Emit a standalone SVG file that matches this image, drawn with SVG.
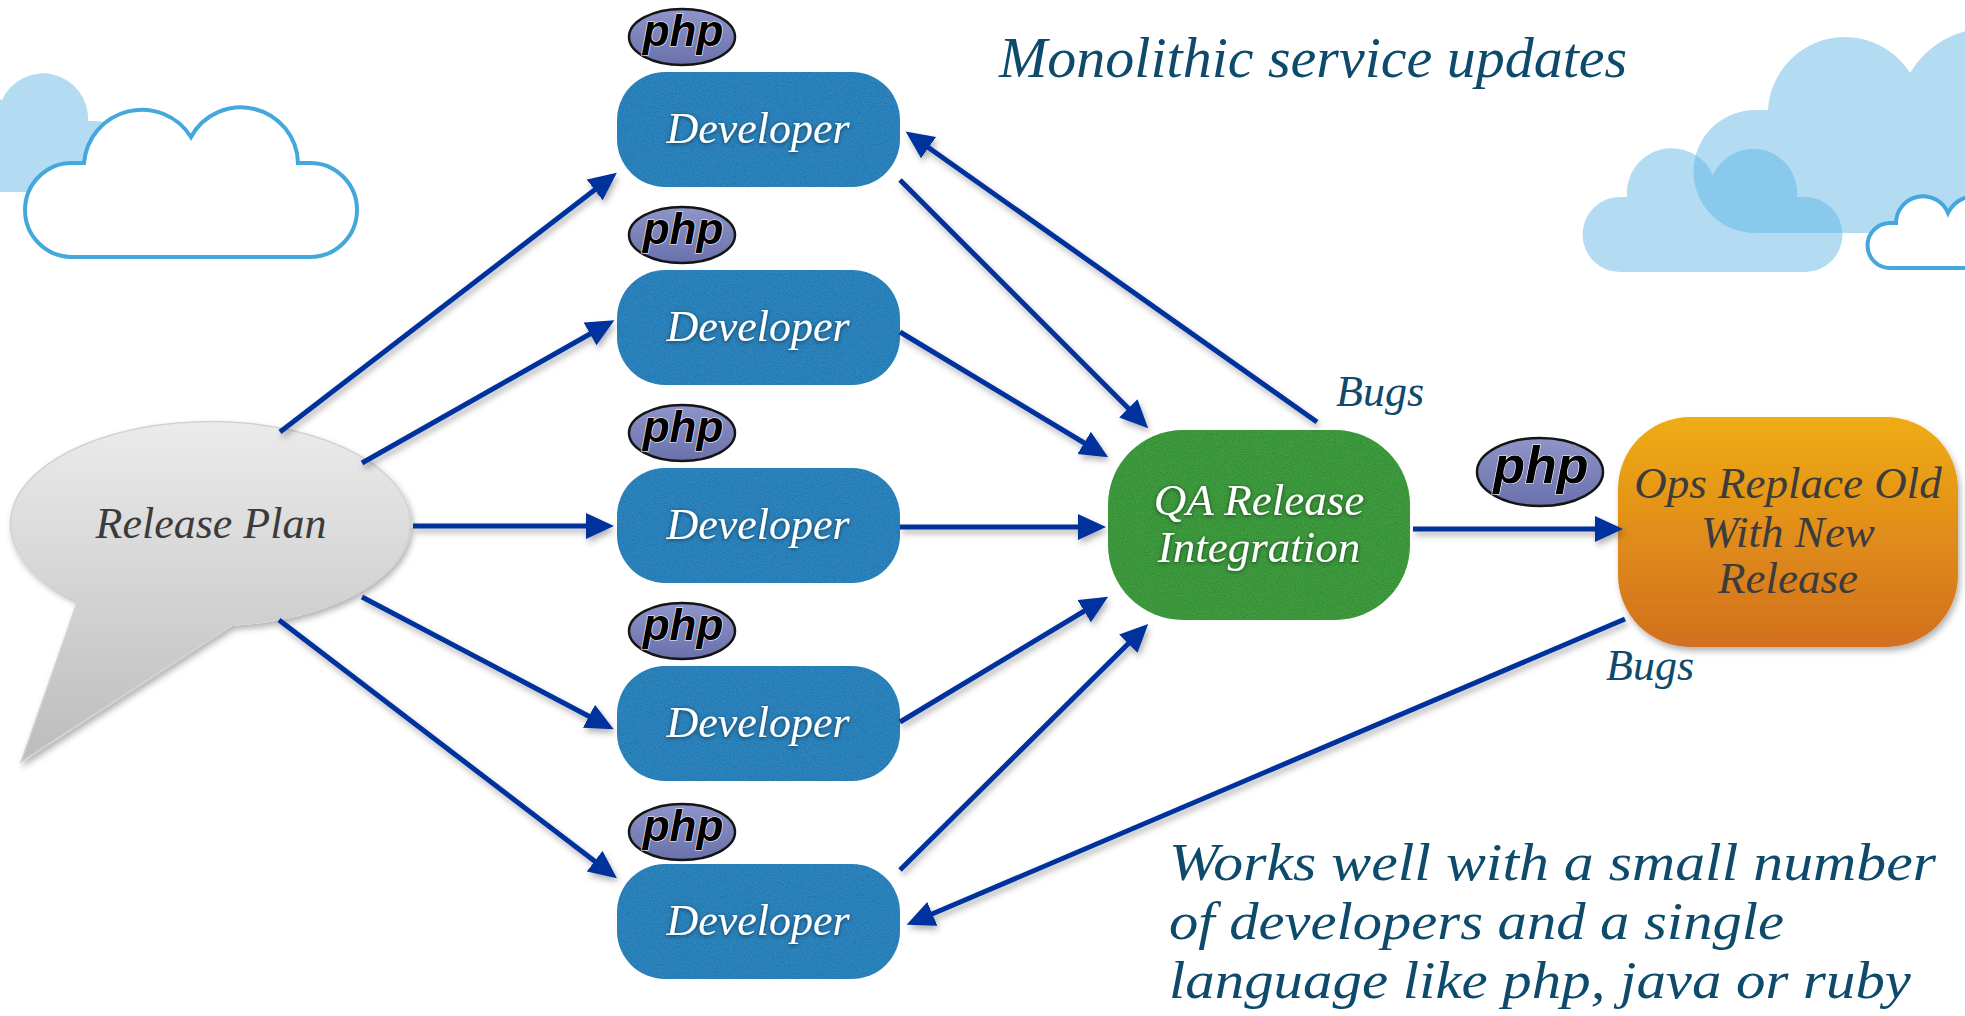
<svg xmlns="http://www.w3.org/2000/svg" width="1965" height="1016" viewBox="0 0 1965 1016">
  <defs>
    <style>
      .serif { font-family: "Liberation Serif", "Times New Roman", serif; font-style: italic; }
      .dev-box { fill: #2f87c2; }
      .dev-text { font-size: 44px; fill: #ffffff; text-anchor: middle; }
      .node-text-light { fill: #ffffff; text-anchor: middle; font-size: 45px; }
      .node-text-dark { fill: #3c3c3c; text-anchor: middle; font-size: 45px; }
      .note { fill: #0d4a6b; }
      .php-oval { fill: url(#phpFill); stroke: #151515; stroke-width: 2.5; }
      .php-word { font-family: "Liberation Sans", Arial, sans-serif; font-weight: bold; font-style: italic; fill: #000000; stroke: #ffffff; stroke-width: 1.2; paint-order: stroke; text-anchor: middle; }
      .cloud-fill { fill: #55b1e2; fill-opacity: 0.447; }
      .cloud-line { fill: #ffffff; stroke: #45a8dc; stroke-width: 4; }
      .link { fill: none; stroke: #06319e; stroke-width: 5; marker-end: url(#head); }
    </style>
    <linearGradient id="phpFill" x1="0" y1="0" x2="0" y2="1">
      <stop offset="0" stop-color="#8f95c9"/>
      <stop offset="1" stop-color="#6a70aa"/>
    </linearGradient>
    <linearGradient id="bubbleFill" gradientUnits="userSpaceOnUse" x1="0" y1="422" x2="0" y2="762">
      <stop offset="0" stop-color="#ebebeb"/>
      <stop offset="1" stop-color="#bcbcbc"/>
    </linearGradient>
    <linearGradient id="opsFill" x1="0" y1="0" x2="0" y2="1">
      <stop offset="0" stop-color="#efac14"/>
      <stop offset="1" stop-color="#d26f20"/>
    </linearGradient>
    <marker id="head" markerUnits="userSpaceOnUse" markerWidth="30" markerHeight="28" refX="8" refY="13" orient="auto">
      <path d="M0,0 L28,13 L0,26 Z" fill="#06319e"/>
    </marker>
    <filter id="shadow" x="-10%" y="-10%" width="120%" height="130%">
      <feDropShadow dx="2" dy="4" stdDeviation="3" flood-color="#000000" flood-opacity="0.3"/>
    </filter>
    <filter id="textShadow" x="-10%" y="-30%" width="120%" height="160%">
      <feDropShadow dx="0" dy="1" stdDeviation="2" flood-color="#000000" flood-opacity="0.55"/>
    </filter>
    <filter id="grain" x="0" y="0" width="100%" height="100%">
      <feTurbulence type="fractalNoise" baseFrequency="0.9" numOctaves="2" seed="7" result="noise"/>
      <feColorMatrix in="noise" type="matrix" values="0 0 0 0 0  0 0 0 0 0  0 0 0 0 0  0.7 0 0 0 -0.25" result="dots"/>
      <feComposite in="dots" in2="SourceAlpha" operator="in" result="dotsIn"/>
      <feMerge>
        <feMergeNode in="SourceGraphic"/>
        <feMergeNode in="dotsIn"/>
      </feMerge>
    </filter>
  </defs>

  <rect width="1965" height="1016" fill="#ffffff"/>

  <!-- background clouds -->
  <g id="clouds">
    <path class="cloud-fill" d="M -60,192 L 95,192 A 35.5 35.5 0 0 0 95,121 L 88,121 A 45 45 0 0 0 2,100 A 45 45 0 0 0 -60,121 Z"/>
    <path class="cloud-line" d="M 72,257 A 47 47 0 0 1 72,163 L 84,163 A 58 58 0 0 1 191,137 A 57 57 0 0 1 298,163 L 310,163 A 47 47 0 0 1 310,257 Z"/>
    <path class="cloud-fill" d="M 1755,233 A 61.5 61.5 0 0 1 1755,110 L 1768,110 A 77 77 0 0 1 1910,73 A 92 92 0 0 1 1990,28 L 1990,233 Z"/>
    <path class="cloud-fill" d="M 1620,272 A 37.5 37.5 0 0 1 1620,197 L 1627,197 A 45 45 0 0 1 1713,175 A 44 44 0 0 1 1797,197 L 1805,197 A 37.5 37.5 0 0 1 1805,272 Z"/>
    <path class="cloud-line" d="M 1890,268 A 22.5 22.5 0 0 1 1890,223 L 1896,223 A 27 27 0 0 1 1948,213 A 30 30 0 0 1 2005,225 L 2005,268 Z"/>
  </g>

  <!-- headings -->
  <text class="serif note" x="999" y="77" font-size="58">Monolithic service updates</text>
  <g class="serif note" font-size="53">
    <text x="1169" y="880" textLength="767" lengthAdjust="spacingAndGlyphs">Works well with a small number</text>
    <text x="1169" y="939" textLength="615" lengthAdjust="spacingAndGlyphs">of developers and a single</text>
    <text x="1169" y="998" textLength="742" lengthAdjust="spacingAndGlyphs">language like php, java or ruby</text>
  </g>

  <!-- release plan speech bubble -->
  <g id="release-plan">
    <path d="M78,600 L21,762 L232,625 A200,102 0 1 0 78,600 Z" fill="url(#bubbleFill)" stroke="#d2d2d2" stroke-width="1.5" filter="url(#shadow)"/>
    <text class="serif" x="211" y="538" font-size="44" fill="#3b3b3b" text-anchor="middle">Release Plan</text>
  </g>

  <!-- developer nodes -->
  <g id="developer-1">
    <rect class="dev-box" x="617" y="72" width="283" height="115" rx="48" filter="url(#grain)"/>
    <text class="serif dev-text" x="758" y="143" filter="url(#textShadow)">Developer</text>
    <ellipse class="php-oval" cx="682" cy="37" rx="53" ry="28"/>
    <text class="php-word" x="683" y="46" font-size="44">php</text>
  </g>
  <g id="developer-2">
    <rect class="dev-box" x="617" y="270" width="283" height="115" rx="48" filter="url(#grain)"/>
    <text class="serif dev-text" x="758" y="341" filter="url(#textShadow)">Developer</text>
    <ellipse class="php-oval" cx="682" cy="235" rx="53" ry="28"/>
    <text class="php-word" x="683" y="244" font-size="44">php</text>
  </g>
  <g id="developer-3">
    <rect class="dev-box" x="617" y="468" width="283" height="115" rx="48" filter="url(#grain)"/>
    <text class="serif dev-text" x="758" y="539" filter="url(#textShadow)">Developer</text>
    <ellipse class="php-oval" cx="682" cy="433" rx="53" ry="28"/>
    <text class="php-word" x="683" y="442" font-size="44">php</text>
  </g>
  <g id="developer-4">
    <rect class="dev-box" x="617" y="666" width="283" height="115" rx="48" filter="url(#grain)"/>
    <text class="serif dev-text" x="758" y="737" filter="url(#textShadow)">Developer</text>
    <ellipse class="php-oval" cx="682" cy="631" rx="53" ry="28"/>
    <text class="php-word" x="683" y="640" font-size="44">php</text>
  </g>
  <g id="developer-5">
    <rect class="dev-box" x="617" y="864" width="283" height="115" rx="48" filter="url(#grain)"/>
    <text class="serif dev-text" x="758" y="935" filter="url(#textShadow)">Developer</text>
    <ellipse class="php-oval" cx="682" cy="832" rx="53" ry="28"/>
    <text class="php-word" x="683" y="841" font-size="44">php</text>
  </g>

  <!-- QA integration node -->
  <g id="qa-release">
    <rect x="1108" y="430" width="302" height="190" rx="75" fill="#3f9f3f" filter="url(#grain)"/>
    <g class="serif node-text-light" filter="url(#textShadow)">
      <text x="1259" y="515">QA Release</text>
      <text x="1259" y="562">Integration</text>
    </g>
  </g>

  <!-- ops node -->
  <g id="ops-replace">
    <rect x="1618" y="417" width="340" height="230" rx="72" fill="url(#opsFill)" filter="url(#shadow)"/>
    <g class="serif node-text-dark">
      <text x="1788" y="498">Ops Replace Old</text>
      <text x="1788" y="547">With New</text>
      <text x="1788" y="593">Release</text>
    </g>
  </g>

  <!-- php badge on the hand-off to ops -->
  <g id="php-release">
    <ellipse class="php-oval" cx="1540" cy="472" rx="63" ry="34"/>
    <text class="php-word" x="1541" y="483" font-size="52">php</text>
  </g>

  <!-- connectors -->
  <g id="connectors" filter="url(#shadow)">
    <line class="link" x1="280" y1="432" x2="601" y2="185"/>
    <line class="link" x1="362" y1="463" x2="597" y2="330"/>
    <line class="link" x1="413" y1="526" x2="594" y2="526"/>
    <line class="link" x1="362" y1="597" x2="596" y2="720"/>
    <line class="link" x1="279" y1="620" x2="601" y2="866"/>

    <line class="link" x1="900" y1="180" x2="1134" y2="414"/>
    <line class="link" x1="900" y1="332" x2="1091" y2="447"/>
    <line class="link" x1="900" y1="527" x2="1086" y2="527"/>
    <line class="link" x1="900" y1="722" x2="1091" y2="607"/>
    <line class="link" x1="900" y1="870" x2="1134" y2="638"/>

    <line class="link" x1="1317" y1="422" x2="922" y2="143"/>
    <line class="link" x1="1413" y1="529" x2="1603" y2="529"/>
    <line class="link" x1="1625" y1="619" x2="925" y2="917"/>
  </g>

  <!-- connector labels -->
  <text class="serif note" x="1336" y="406" font-size="44">Bugs</text>
  <text class="serif note" x="1606" y="680" font-size="44">Bugs</text>
</svg>
